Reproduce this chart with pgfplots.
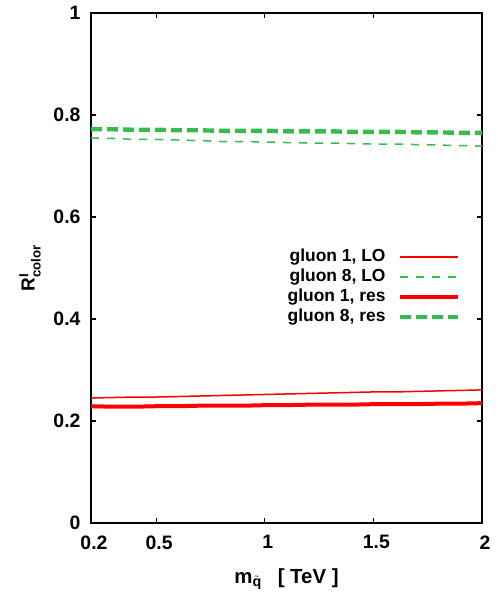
\documentclass[border=0pt]{standalone}
\usepackage{fontspec}
\setmainfont{Liberation Sans}
\usepackage{amsmath}
\usepackage{pgfplots}
\pgfplotsset{compat=1.18}
\definecolor{gr}{RGB}{50,190,75}
\begin{document}
\begin{tikzpicture}
\path[use as bounding box] (-91bp,-73bp) rectangle (407bp,523bp);
\begin{axis}[
  at={(0,0)}, anchor=south west,
  scale only axis, width=391bp, height=510bp,
  xmin=0.2, xmax=2, ymin=0, ymax=1,
  xtick={0.2,0.5,1,1.5,2}, xticklabels={0.2,0.5,1,1.5,2},
  ytick={0,0.2,0.4,0.6,0.8,1}, yticklabels={0,0.2,0.4,0.6,0.8,1},
  tick align=inside, major tick length=5bp,
  axis line style={line width=1.6bp}, tick style={line width=1.2bp, black},
  font=\fontsize{19}{22}\selectfont\bfseries,
  ticklabel style={font=\fontsize{19.5}{22}\selectfont\bfseries},
  xticklabel style={yshift=-9bp, xshift=3bp},
  yticklabel style={xshift=-7bp},
  xlabel={m$_{\tilde{\textbf{q}}}$\hspace{16bp}[ TeV ]},
  ylabel={R$^{\textbf{I}}_{\textbf{color}}$},
  xlabel style={at={(axis description cs:0.5,0)}, anchor=base, yshift=-60bp,
    font=\fontsize{20.5}{24}\selectfont\bfseries},
  ylabel style={at={(axis description cs:0,0.5)}, anchor=center, yshift=61bp},
  legend style={draw=none, fill=none, at={(0.944,0.541)}, anchor=north east,
    inner sep=0pt, column sep=12bp, row sep=0bp,
    nodes={inner sep=0pt, text height=14bp, text depth=6bp},
    font=\fontsize{17.5}{21}\selectfont\bfseries},
  legend plot pos=right, legend cell align=right,
  legend image code/.code={\draw[#1] (0bp,0bp) -- (58bp,0bp);},
]
\addlegendimage{draw=red, color=red, line width=2bp}
\addlegendentry{gluon 1, LO}
\addlegendimage{draw=gr, color=gr, line width=2bp, dash pattern=on 8bp off 8bp}
\addlegendentry{gluon 8, LO}
\addlegendimage{draw=red, line width=4bp}
\addlegendentry{gluon 1, res}
\addlegendimage{draw=gr, line width=4.4bp, dash pattern=on 11bp off 5bp}
\addlegendentry{gluon 8, res}
\addplot[draw=red, line width=1.5bp, forget plot] coordinates {
(0.2,0.245)(0.3,0.246)(0.4,0.247)(0.5,0.247)(0.6,0.248)(0.7,0.249)(0.8,0.250)(0.9,0.251)(1.0,0.252)(1.1,0.253)(1.2,0.254)(1.3,0.255)(1.4,0.256)(1.5,0.257)(1.6,0.257)(1.7,0.258)(1.8,0.259)(1.9,0.260)(2.0,0.261)};
\addplot[draw=gr, line width=1.5bp, dash pattern=on 8bp off 8bp, forget plot] coordinates {
(0.2,0.755)(0.3,0.754)(0.4,0.752)(0.5,0.752)(0.6,0.751)(0.7,0.750)(0.8,0.748)(0.9,0.748)(1.0,0.747)(1.1,0.746)(1.2,0.745)(1.3,0.745)(1.4,0.744)(1.5,0.743)(1.6,0.743)(1.7,0.742)(1.8,0.741)(1.9,0.740)(2.0,0.739)};
\addplot[draw=red, line width=4bp, forget plot] coordinates {
(0.2,0.229)(0.3,0.228)(0.4,0.228)(0.5,0.229)(0.6,0.229)(0.7,0.230)(0.8,0.230)(0.9,0.230)(1.0,0.231)(1.1,0.231)(1.2,0.232)(1.3,0.232)(1.4,0.232)(1.5,0.233)(1.6,0.233)(1.7,0.233)(1.8,0.234)(1.9,0.234)(2.0,0.235)};
\addplot[draw=gr, line width=4.4bp, dash pattern=on 11bp off 5bp, forget plot] coordinates {
(0.2,0.772)(0.3,0.772)(0.4,0.771)(0.5,0.771)(0.6,0.770)(0.7,0.770)(0.8,0.769)(0.9,0.769)(1.0,0.769)(1.1,0.768)(1.2,0.768)(1.3,0.768)(1.4,0.767)(1.5,0.767)(1.6,0.767)(1.7,0.766)(1.8,0.766)(1.9,0.765)(2.0,0.765)};
\end{axis}
\end{tikzpicture}
\end{document}
